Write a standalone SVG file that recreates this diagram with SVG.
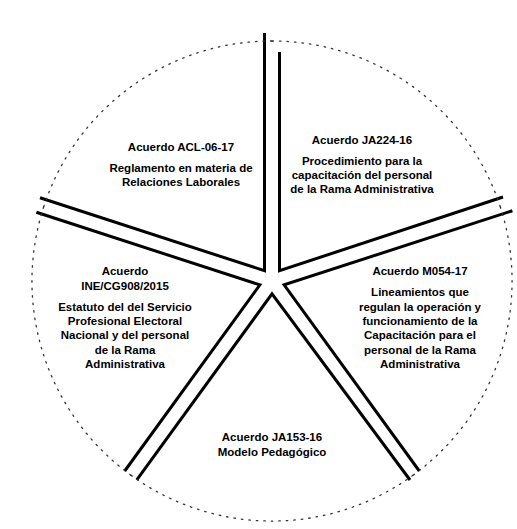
<svg xmlns="http://www.w3.org/2000/svg" width="517" height="529" viewBox="0 0 517 529">
<style>
.edge{fill:none;stroke:#000;stroke-width:3;stroke-linejoin:miter}
.arc{fill:none;stroke:#333;stroke-width:1.3;stroke-dasharray:1.5 6;stroke-linecap:round}
.t{font-family:"Liberation Sans",Arial,sans-serif;font-weight:bold;font-size:11.5px;fill:#000;text-anchor:middle}
</style>
<rect width="517" height="529" fill="#fff"/>
<g id="connectors"/>
<g id="node-acl">
<path class="edge" d="M40,197.8 L264.5,270.7 L264.5,33"/>
<path class="arc" d="M43.7,206.8 A240,240 0 0 1 272,41"/>
<text class="t" x="181" y="151">Acuerdo ACL-06-17</text>
<text class="t" x="181" y="172">Reglamento en materia de</text>
<text class="t" x="181" y="186">Relaciones Laborales</text>
</g>
<g id="node-ja224">
<path class="edge" d="M279.5,52 L279.5,270.7 L503,197"/>
<path class="arc" d="M272,41 A240,240 0 0 1 500.3,206.8"/>
<text class="t" x="362" y="144">Acuerdo JA224-16</text>
<text class="t" x="362" y="165">Procedimiento para la</text>
<text class="t" x="362" y="179">capacitación del personal</text>
<text class="t" x="362" y="193">de la Rama Administrativa</text>
</g>
<g id="node-m054">
<path class="edge" d="M512.4,210.7 L284.1,284.9 L419.3,471"/>
<path class="arc" d="M500.3,206.8 A240,240 0 0 1 413.1,475.2"/>
<text class="t" x="420" y="275">Acuerdo M054-17</text>
<text class="t" x="420" y="296">Lineamientos que</text>
<text class="t" x="420" y="311">regulan la operación y</text>
<text class="t" x="420" y="325">funcionamiento de la</text>
<text class="t" x="420" y="339">Capacitación para el</text>
<text class="t" x="420" y="354">personal de la Rama</text>
<text class="t" x="420" y="368">Administrativa</text>
</g>
<g id="node-ja153">
<path class="edge" d="M410,480 L272,293.8 L136.8,479.9"/>
<path class="arc" d="M413.1,475.2 A240,240 0 0 1 130.9,475.2"/>
<text class="t" x="272" y="441">Acuerdo JA153-16</text>
<text class="t" x="272" y="456">Modelo Pedagógico</text>
</g>
<g id="node-ine">
<path class="edge" d="M124.7,471 L259.9,284.9 L36.4,212.3"/>
<path class="arc" d="M130.9,475.2 A240,240 0 0 1 43.7,206.8"/>
<text class="t" x="125" y="275">Acuerdo</text>
<text class="t" x="125" y="290">INE/CG908/2015</text>
<text class="t" x="125" y="311">Estatuto del del Servicio</text>
<text class="t" x="125" y="325">Profesional Electoral</text>
<text class="t" x="125" y="339">Nacional y del personal</text>
<text class="t" x="125" y="354">de la Rama</text>
<text class="t" x="125" y="368">Administrativa</text>
</g>
</svg>
